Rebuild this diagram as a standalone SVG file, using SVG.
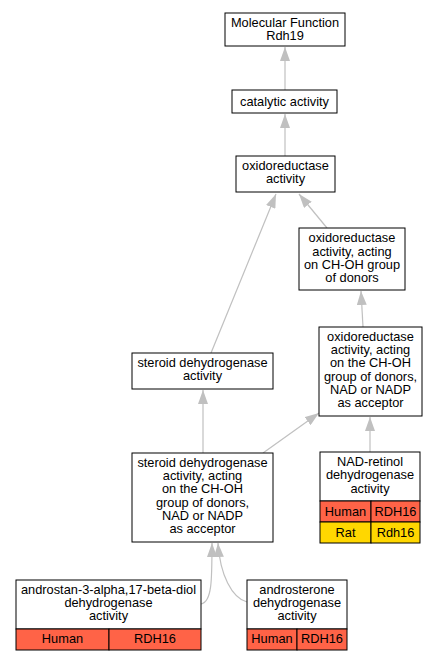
<svg xmlns="http://www.w3.org/2000/svg" width="439" height="661" viewBox="0 0 439 661">
<style>
.box{fill:#fff;stroke:#000;stroke-width:1}
.h{fill:#ff6347;stroke:#000;stroke-width:1}
.r{fill:#ffd700;stroke:#000;stroke-width:1}
text{font-family:"Liberation Sans",Arial,sans-serif;font-size:12.8px;fill:#000;text-anchor:middle}
.e{fill:none;stroke:#c0c0c0;stroke-width:1.2;marker-end:url(#a)}
</style>
<defs>
<marker id="a" markerUnits="userSpaceOnUse" markerWidth="15" markerHeight="10" refX="14" refY="5" orient="auto">
<path d="M0,0 L14,5 L0,10 z" fill="#c0c0c0"/>
</marker>
</defs>
<rect width="439" height="661" fill="#fff"/>
<g id="edges">
<path class="e" d="M285,90 L285,47"/>
<path class="e" d="M285,156 L285,114"/>
<path class="e" d="M327,228 L299,194"/>
<path class="e" d="M211,353 L276,194"/>
<path class="e" d="M363,327 L361,291"/>
<path class="e" d="M203,453 L203,390"/>
<path class="e" d="M263,453 L319,413"/>
<path class="e" d="M370,452 L370,417"/>
<path class="e" d="M201,604 C212,602 212,580 212,543"/>
<path class="e" d="M247,602 C232,598 220,575 218,543"/>
</g>
<g id="mf">
<rect class="box" x="225" y="13" width="120" height="33"/>
<text x="285" y="27">Molecular Function</text>
<text x="285" y="40">Rdh19</text>
</g>
<g id="catalytic">
<rect class="box" x="232" y="90" width="105" height="23"/>
<text x="284.5" y="106">catalytic activity</text>
</g>
<g id="oxido">
<rect class="box" x="236" y="156" width="99" height="36"/>
<text x="285.5" y="170">oxidoreductase</text>
<text x="285.5" y="183">activity</text>
</g>
<g id="choh">
<rect class="box" x="299" y="228" width="106" height="62"/>
<text x="352" y="242">oxidoreductase</text>
<text x="352" y="256">activity, acting</text>
<text x="352" y="269">on CH-OH group</text>
<text x="352" y="282">of donors</text>
</g>
<g id="nad">
<rect class="box" x="319" y="327" width="103" height="89"/>
<text x="370.5" y="341">oxidoreductase</text>
<text x="370.5" y="354">activity, acting</text>
<text x="370.5" y="367">on the CH-OH</text>
<text x="370.5" y="381">group of donors,</text>
<text x="370.5" y="394">NAD or NADP</text>
<text x="370.5" y="407">as acceptor</text>
</g>
<g id="steroid">
<rect class="box" x="132" y="353" width="141" height="36"/>
<text x="202.5" y="367">steroid dehydrogenase</text>
<text x="202.5" y="380">activity</text>
</g>
<g id="steroidnad">
<rect class="box" x="132" y="453" width="141" height="89"/>
<text x="202.5" y="467">steroid dehydrogenase</text>
<text x="202.5" y="480">activity, acting</text>
<text x="202.5" y="493">on the CH-OH</text>
<text x="202.5" y="507">group of donors,</text>
<text x="202.5" y="520">NAD or NADP</text>
<text x="202.5" y="533">as acceptor</text>
</g>
<g id="retinol">
<rect class="box" x="320" y="452" width="100" height="49"/>
<rect class="h" x="320" y="501" width="51" height="21"/>
<rect class="h" x="371" y="501" width="49" height="21"/>
<rect class="r" x="320" y="522" width="51" height="21"/>
<rect class="r" x="371" y="522" width="49" height="21"/>
<text x="370" y="466">NAD-retinol</text>
<text x="370" y="479">dehydrogenase</text>
<text x="370" y="493">activity</text>
<text x="345.5" y="516">Human</text>
<text x="395.5" y="516">RDH16</text>
<text x="345.5" y="537">Rat</text>
<text x="395.5" y="537">Rdh16</text>
</g>
<g id="androstan">
<rect class="box" x="16" y="580" width="185" height="49"/>
<rect class="h" x="16" y="629" width="93" height="21"/>
<rect class="h" x="109" y="629" width="92" height="21"/>
<text x="108.5" y="594">androstan-3-alpha,17-beta-diol</text>
<text x="108.5" y="607">dehydrogenase</text>
<text x="108.5" y="620">activity</text>
<text x="62.5" y="643">Human</text>
<text x="155" y="643">RDH16</text>
</g>
<g id="androsterone">
<rect class="box" x="247" y="580" width="100" height="49"/>
<rect class="h" x="247" y="629" width="50" height="21"/>
<rect class="h" x="297" y="629" width="50" height="21"/>
<text x="297" y="594">androsterone</text>
<text x="297" y="607">dehydrogenase</text>
<text x="297" y="620">activity</text>
<text x="272" y="643">Human</text>
<text x="322" y="643">RDH16</text>
</g>
</svg>
